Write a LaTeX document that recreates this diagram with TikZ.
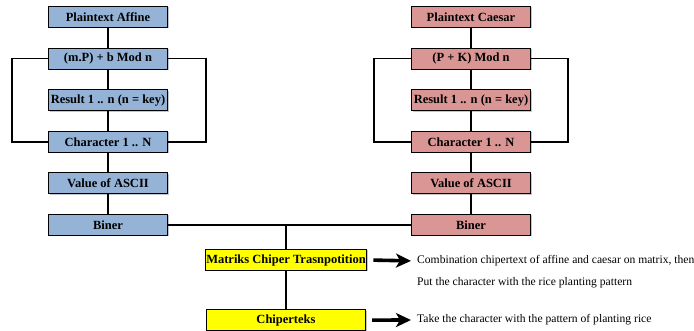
\documentclass[tikz,border=0pt]{standalone}
\usepackage{fontspec}
\setmainfont{Liberation Serif}
\usetikzlibrary{positioning,arrows.meta,shadows}
\definecolor{affblue}{HTML}{95B3D7}
\definecolor{caered}{HTML}{D99694}
\definecolor{mtxyellow}{HTML}{FFFF00}
\tikzset{
  >=Stealth,
  block/.style={draw, line width=1.1pt, minimum width=119pt, minimum height=21pt,
    inner sep=1pt, font=\fontsize{12.5}{13}\selectfont\bfseries,
    drop shadow={shadow xshift=1pt, shadow yshift=-1pt, fill=black!45}},
  affine/.style={block, fill=affblue},
  caesar/.style={block, fill=caered},
  matrix box/.style={block, fill=mtxyellow, minimum width=159pt},
  note/.style={anchor=west, inner sep=0pt, font=\fontsize{11.6}{13}\selectfont},
  link/.style={line width=1.8pt},
  bigarrow/.style={-{Stealth[length=15pt,width=14pt,inset=4pt]}, line width=3.6pt},
}

\begin{document}
\begin{tikzpicture}[x=1pt,y=-1pt, node distance=19.5pt]
\useasboundingbox (0,0) rectangle (694,331);

% Affine column
\node[affine] (aplain) at (108,17) {Plaintext Affine};
\node[affine,below=of aplain] (amod) {(m.P) + b Mod n};
\node[affine,below=of amod] (ares) {Result 1 .. n (n = key)};
\node[affine,below=of ares] (achar) {Character 1 .. N};
\node[affine,below=of achar] (aasc) {Value of ASCII};
\node[affine,below=of aasc] (abin) {Biner};

% Caesar column
\node[caesar] (cplain) at (471,17) {Plaintext Caesar};
\node[caesar,below=of cplain] (cmod) {(P + K) Mod n};
\node[caesar,below=of cmod] (cres) {Result 1 .. n (n = key)};
\node[caesar,below=of cres] (cchar) {Character 1 .. N};
\node[caesar,below=of cchar] (casc) {Value of ASCII};
\node[caesar,below=of casc] (cbin) {Biner};

% Transposition
\node[matrix box] (mtp) at (286,260) {Matriks Chiper Trasnpotition};
\node[matrix box,below=38pt of mtp] (cipher) {Chiperteks};

% Notes
\node[note] (mnote) at (417,261) {Combination chipertext of affine and caesar on matrix, then};
\node[note] (mnote2) at (417,283) {Put the character with the rice planting pattern};
\node[note] (cnote) at (417,320) {Take the character with the pattern of planting rice};

% Links
\draw[link] (aplain) -- (amod) -- (ares) -- (achar) -- (aasc) -- (abin);
\draw[link] (cplain) -- (cmod) -- (cres) -- (cchar) -- (casc) -- (cbin);
\draw[link] (amod.west) -- ++(-36pt,0) |- (achar.west);
\draw[link] (amod.east) -- ++(38pt,0) |- (achar.east);
\draw[link] (cmod.west) -- ++(-37pt,0) |- (cchar.west);
\draw[link] (cmod.east) -- ++(37pt,0) |- (cchar.east);
\draw[link] (abin.east) -- (cbin.west);
\draw[link] (mtp.north |- abin.east) -- (mtp.north);
\draw[link] (mtp) -- (cipher);

% Arrows
\draw[bigarrow, shorten <=6pt, shorten >=6pt] (mtp.east) -- (mnote.west);
\draw[bigarrow, shorten <=6pt, shorten >=6pt] (cipher.east) -- (cnote.west);

\end{tikzpicture}
\end{document}
